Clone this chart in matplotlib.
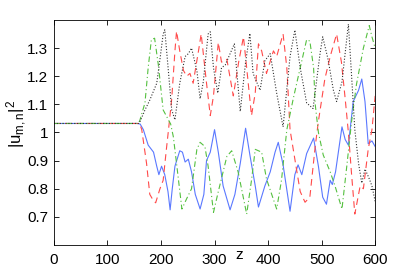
import matplotlib
matplotlib.use('Agg')
from matplotlib import pyplot as plt

plt.rcParams['font.family'] = ['Liberation Sans Narrow', 'Liberation Sans', 'DejaVu Sans']
plt.rcParams['mathtext.fontset'] = 'custom'
plt.rcParams['mathtext.rm'] = 'Liberation Sans'

# values, (z, |u|^2) per mode
blue_z = [0, 155, 161, 167, 176, 186, 192, 196, 201, 207, 213, 217, 221, 226, 235, 240, 245, 251,
          257, 264, 273, 280, 285, 292, 300, 307, 316, 329, 338, 348, 358, 366, 376, 382, 394, 404,
          413, 419, 428, 441, 450, 456, 463, 472, 485, 494, 502, 509, 516, 520, 526, 538, 544, 550,
          559, 569, 575, 581, 587, 594, 600]
blue_v = [1.032, 1.032, 1.03, 1.01, 0.955, 0.93, 0.88, 0.85, 0.88, 0.85, 0.79, 0.725, 0.80, 0.88,
          0.935, 0.93, 0.895, 0.905, 0.86, 0.78, 0.728, 0.78, 0.90, 0.93, 1.01, 0.93, 0.81, 0.725,
          0.78, 0.89, 1.015, 0.92, 0.81, 0.735, 0.81, 0.86, 0.93, 0.965, 0.885, 0.72, 0.85, 0.885,
          0.85, 0.925, 0.98, 0.88, 0.77, 0.745, 0.83, 0.815, 0.86, 1.02, 0.975, 0.955, 1.11, 1.15,
          1.19, 1.11, 0.96, 0.97, 0.95]

red_z = [0, 160, 164, 173, 179, 186, 190, 198, 204, 210, 214, 220, 226, 229, 235, 242, 248, 254,
         260, 270, 275, 279, 285, 292, 298, 307, 313, 323, 335, 345, 354, 360, 369, 376, 382, 388,
         397, 410, 416, 428, 435, 441, 453, 460, 469, 478, 488, 494, 506, 516, 528, 537, 544, 550,
         556, 562, 572, 578, 587, 594, 600]
red_v = [1.032, 1.032, 1.01, 0.89, 0.78, 0.757, 0.75, 0.80, 0.83, 0.94, 1.01, 1.12, 1.29, 1.36,
         1.29, 1.22, 1.20, 1.21, 1.175, 1.29, 1.35, 1.28, 1.175, 1.06, 1.13, 1.32, 1.25, 1.26, 1.13,
         1.25, 1.34, 1.23, 1.06, 1.14, 1.315, 1.29, 1.21, 1.29, 1.27, 1.35, 1.23, 1.01, 0.87, 0.79,
         0.752, 0.77, 0.95, 1.04, 1.19, 1.27, 1.35, 1.25, 1.12, 1.0, 0.85, 0.71, 0.81, 0.80, 0.94,
         1.01, 1.13]

green_z = [0, 155, 160, 170, 176, 182, 188, 195, 204, 211, 218, 223, 229, 239, 248, 257, 267, 273,
           282, 288, 298, 307, 323, 332, 344, 360, 369, 376, 388, 397, 416, 425, 435, 447, 460, 472,
           478, 485, 488, 494, 503, 516, 525, 538, 547, 556, 565, 578, 589, 594, 600]
green_v = [1.032, 1.032, 1.04, 1.105, 1.23, 1.33, 1.335, 1.24, 1.08, 1.055, 1.03, 0.985, 0.89,
           0.728, 0.765, 0.80, 0.94, 0.965, 0.95, 0.88, 0.716, 0.79, 0.915, 0.935, 0.86, 0.71, 0.83,
           0.94, 0.93, 0.835, 0.728, 0.83, 1.01, 1.12, 1.23, 1.33, 1.325, 1.23, 1.10, 1.0, 0.92,
           0.86, 0.81, 0.728, 0.88, 1.04, 1.17, 1.30, 1.38, 1.34, 1.30]

black_z = [0, 158, 161, 170, 179, 192, 198, 204, 207, 213, 220, 226, 235, 245, 251, 257, 267, 273,
           279, 288, 292, 298, 306, 313, 320, 329, 337, 348, 358, 366, 372, 385, 394, 404, 416, 428,
           441, 450, 460, 472, 484, 497, 502, 512, 522, 528, 538, 550, 556, 562, 569, 575, 581, 588,
           594, 600]
black_v = [1.032, 1.032, 1.04, 1.08, 1.115, 1.175, 1.26, 1.35, 1.365, 1.235, 1.08, 1.045, 1.175,
           1.27, 1.28, 1.30, 1.22, 1.12, 1.18, 1.35, 1.358, 1.23, 1.14, 1.23, 1.24, 1.28, 1.315,
           1.075, 1.25, 1.352, 1.21, 1.15, 1.255, 1.28, 1.14, 1.02, 1.27, 1.364, 1.23, 1.105, 1.085,
           1.28, 1.34, 1.26, 1.15, 1.11, 1.18, 1.385, 1.2, 1.01, 0.89, 0.82, 0.87, 0.84, 0.81, 0.755]

xticks = [0, 100, 200, 300, 400, 500, 600]
yticks = [0.7, 0.8, 0.9, 1.0, 1.1, 1.2, 1.3]
ytick_labels = ['0.7', '0.8', '0.9', '1', '1.1', '1.2', '1.3']

fig = plt.figure(figsize=(4.15, 2.77), dpi=100)
ax = fig.add_axes([0.130, 0.1155, 0.774, 0.8125])

lw = 0.8
ax.plot(blue_z, blue_v, color='#5a78ff', lw=lw, ls='-')
ax.plot(red_z, red_v, color='#ff4a4a', lw=lw, ls=(0, (6, 4)))
ax.plot(green_z, green_v, color='#55c040', lw=lw, ls=(0, (5, 2.5, 1, 2.5)))
ax.plot(black_z, black_v, color='#333333', lw=lw, ls=(0, (1, 1.6)))

ax.set_xlim(0, 600)
ax.set_ylim(0.6, 1.4)
ax.set_xticks(xticks)
ax.set_yticks(yticks)
ax.set_yticklabels(ytick_labels)
ax.tick_params(direction='in', top=True, right=True, length=3.5, width=0.6,
               labelsize=11, pad=4)
ax.tick_params(axis='x', pad=6)
for s in ax.spines.values():
    s.set_linewidth(0.6)

ax.set_ylabel(r'$\mathregular{|u_{m,n}|^2}$', fontsize=12)
ax.yaxis.set_label_coords(-0.078, 0.54)
ax.text(0.576, -0.045, 'z', transform=ax.transAxes, ha='center', va='center', fontsize=11)

fig.savefig('out.png', dpi=100)
